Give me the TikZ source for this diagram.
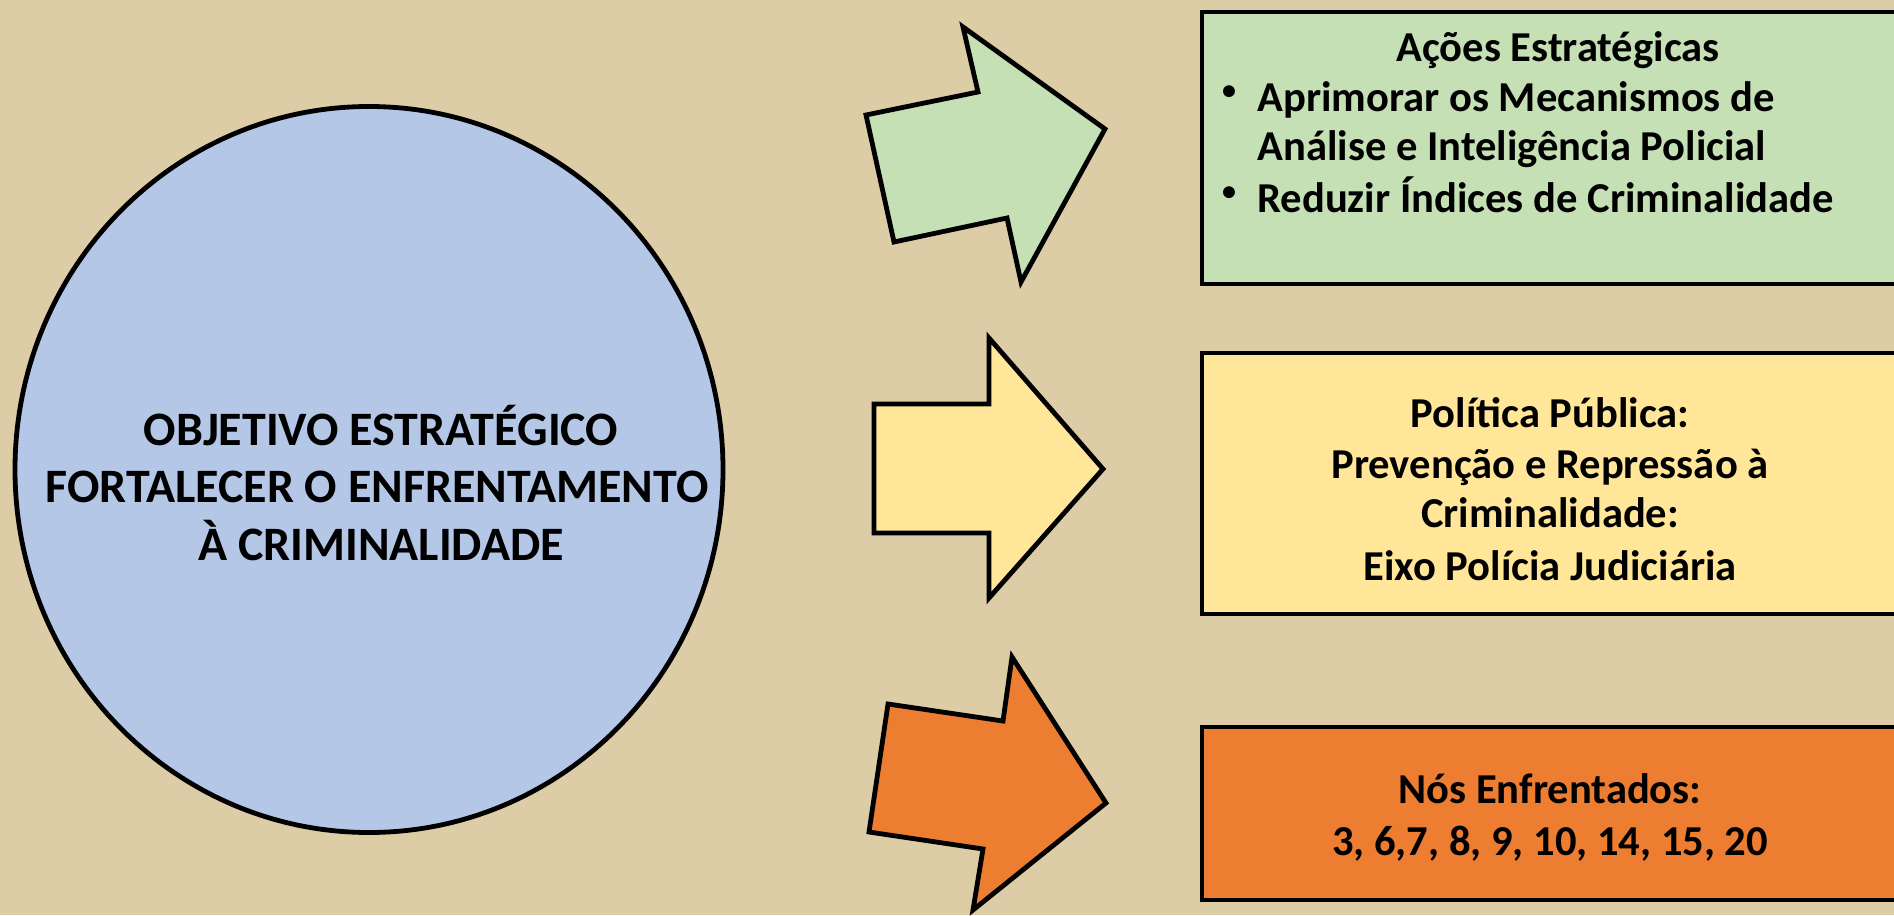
\documentclass[tikz,border=0pt]{standalone}
\usepackage{fontspec}
\setmainfont{Carlito}
\definecolor{fundo}{RGB}{221,205,166}
\definecolor{azulobj}{HTML}{B4C7E7}
\definecolor{verdeacao}{HTML}{C5E0B4}
\definecolor{amarelopol}{HTML}{FFE699}
\definecolor{laranjanos}{HTML}{ED7D31}

\begin{document}
\begin{tikzpicture}[x=0.5pt,y=-0.5pt,
        contorno/.style={draw=black,line width=2.4pt},
        txtobj/.style={font=\fontsize{24}{28}\selectfont\bfseries,inner sep=0pt,anchor=base},
        txtcaixa/.style={font=\fontsize{21.3}{25}\selectfont\bfseries,inner sep=0pt,anchor=base},
        bala/.style={font=\fontsize{14}{16}\selectfont\bfseries,inner sep=0pt,anchor=center}]
        \fill[fundo] (0,0) rectangle (1894,915);
        \useasboundingbox (0,0) rectangle (1894,915);
        \draw[contorno,fill=azulobj] (369,469.5) ellipse [x radius=177pt,y radius=181.5pt];
        \node[txtobj] (obj1) at (381,445) {OBJETIVO ESTRATÉGICO};
        \node[txtobj] (obj2) at (377,502) {FORTALECER O ENFRENTAMENTO};
        \node[txtobj] (obj3) at (381,560) {À CRIMINALIDADE};
        \draw[contorno,fill=verdeacao] (866,115) -- (978,92) -- (963,27) -- (1105,129) -- (1021,282) -- (1007,218) -- (894,242) -- cycle;
        \draw[contorno,fill=amarelopol] (874,404) -- (989,404) -- (989,338) -- (1103,469) -- (989,598) -- (989,533) -- (874,533) -- cycle;
        \draw[contorno,fill=laranjanos] (888,704) -- (1003,721) -- (1012,657) -- (1106,803) -- (973,910) -- (983,849) -- (869,832) -- cycle;
        \draw[contorno,fill=verdeacao] (1202,12) rectangle (1910,284);
        \draw[contorno,fill=amarelopol] (1202,353) rectangle (1910,614);
        \draw[contorno,fill=laranjanos] (1202,727) rectangle (1910,900);
        \node[txtcaixa] (acoes) at (1558,62) {Ações Estratégicas};
        \node[bala] (bala1) at (1229,93) {•};
        \node[txtcaixa,anchor=base west] (acao1a) at (1257,112) {Aprimorar os Mecanismos de};
        \node[txtcaixa,anchor=base west] (acao1b) at (1257,160) {Análise e Inteligência Policial};
        \node[bala] (bala2) at (1229,194) {•};
        \node[txtcaixa,anchor=base west] (acao2) at (1257,212) {Reduzir Índices de Criminalidade};
        \node[txtcaixa] (pol1) at (1550,427) {Política Pública:};
        \node[txtcaixa] (pol2) at (1550,478) {Prevenção e Repressão à};
        \node[txtcaixa] (pol3) at (1550,527) {Criminalidade:};
        \node[txtcaixa] (pol4) at (1550,580) {Eixo Polícia Judiciária};
        \node[txtcaixa] (nos1) at (1550,803) {Nós Enfrentados:};
        \node[txtcaixa] (nos2) at (1550,855) {3, 6,7, 8, 9, 10, 14, 15, 20};
    \end{tikzpicture}
\end{document}
